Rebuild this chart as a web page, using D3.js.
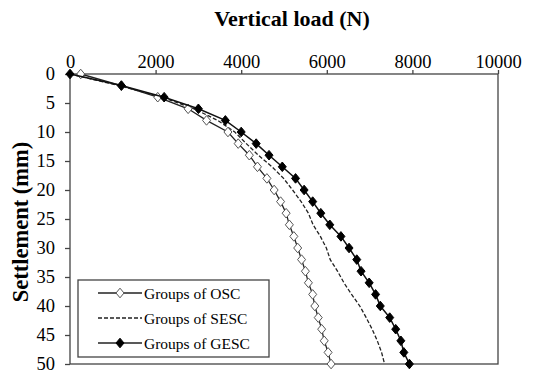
<!DOCTYPE html>
<html>
<head>
<meta charset="utf-8">
<script src="https://cdn.jsdelivr.net/npm/d3@7"></script>
<style>
  body { margin: 0; background: #fff; }
  svg text { font-family: "Liberation Serif", Tinos, "Times New Roman", Times, "DejaVu Serif", serif; fill: #000; }
</style>
</head>
<body>
<svg width="536" height="376"></svg>
<script>
// settlement steps (mm), shared by all three series
var settlement = [0, 2, 4, 6, 8, 10, 12, 14, 16, 18, 20, 22, 24, 26, 28, 30, 32, 34, 36, 38, 40, 42, 44, 46, 48, 50];

// vertical load (N)
var loadOSC  = [250, 1200, 2050, 2760, 3190, 3690, 3930, 4190, 4380, 4600, 4770, 4920, 5050, 5125, 5230, 5320, 5410, 5500, 5570, 5670, 5720, 5800, 5880, 5940, 6030, 6100];
var loadSESC = [0, 1150, 2150, 2900, 3450, 3850, 4120, 4400, 4720, 4990, 5200, 5400, 5570, 5680, 5850, 5990, 6080, 6250, 6400, 6580, 6770, 6920, 7060, 7180, 7280, 7350];
var loadGESC = [0, 1200, 2200, 3000, 3630, 4000, 4350, 4650, 4960, 5270, 5470, 5670, 5860, 6070, 6330, 6520, 6700, 6800, 6990, 7140, 7250, 7470, 7610, 7730, 7800, 7930];

var seriesNames = ["Groups of OSC", "Groups of SESC", "Groups of GESC"];
var xTicks = [0, 2000, 4000, 6000, 8000, 10000];
var yTicks = [0, 5, 10, 15, 20, 25, 30, 35, 40, 45, 50];

var svg = d3.select("svg");
var plotLeft = 70, plotRight = 498, plotTop = 74, plotBottom = 364;
var serif = "'Liberation Serif', Tinos, 'Times New Roman', 'DejaVu Serif', serif";

var x = d3.scaleLinear().domain([0, 10000]).range([plotLeft, plotRight]);
var y = d3.scaleLinear().domain([0, 50]).range([plotTop, plotBottom]);

var axisColor = "#444";

// frame
svg.append("rect")
    .attr("x", plotLeft).attr("y", plotTop)
    .attr("width", plotRight - plotLeft).attr("height", plotBottom - plotTop)
    .attr("fill", "none").attr("stroke", axisColor).attr("stroke-width", 1.3);

// top x axis
var gx = svg.append("g")
    .attr("transform", "translate(0," + plotTop + ")")
    .call(d3.axisTop(x).tickValues(xTicks).tickSize(4).tickSizeOuter(0).tickPadding(2).tickFormat(d3.format("d")));
gx.attr("font-family", serif);
gx.select(".domain").remove();
gx.selectAll("line").attr("stroke", axisColor).attr("stroke-width", 1.3);
gx.selectAll("text").attr("font-size", 18.5);

// left y axis
var gy = svg.append("g")
    .attr("transform", "translate(" + plotLeft + ",0)")
    .call(d3.axisLeft(y).tickValues(yTicks).tickSize(5).tickSizeOuter(0).tickPadding(10));
gy.attr("font-family", serif);
gy.select(".domain").remove();
gy.selectAll("line").attr("stroke", axisColor).attr("stroke-width", 1.3);
gy.selectAll("text").attr("font-size", 18.5);

// titles
svg.append("text")
    .attr("x", 292).attr("y", 26)
    .attr("text-anchor", "middle")
    .attr("font-family", serif)
    .attr("font-size", 22).attr("font-weight", "bold")
    .text("Vertical load (N)");

svg.append("text")
    .attr("transform", "translate(28,222) rotate(-90)")
    .attr("text-anchor", "middle")
    .attr("font-family", serif)
    .attr("font-size", 22.5).attr("font-weight", "bold")
    .text("Settlement (mm)");

var line = d3.line()
    .x(function(d) { return x(d[0]); })
    .y(function(d) { return y(d[1]); });

function pairs(loads) {
  return loads.map(function(v, i) { return [v, settlement[i]]; });
}

// slightly tall diamond, like the spreadsheet marker
var diamondType = {
  draw: function(ctx, size) {
    var w = Math.sqrt(size) / 2, h = w * 1.2;
    ctx.moveTo(0, -h); ctx.lineTo(w, 0); ctx.lineTo(0, h); ctx.lineTo(-w, 0); ctx.closePath();
  }
};
var diamond = d3.symbol().type(diamondType).size(64);

// SESC dashed
svg.append("path")
    .datum(pairs(loadSESC))
    .attr("d", line)
    .attr("fill", "none").attr("stroke", "#222").attr("stroke-width", 1.3)
    .attr("stroke-dasharray", "4,2");

// OSC open diamonds
svg.append("path")
    .datum(pairs(loadOSC))
    .attr("d", line)
    .attr("fill", "none").attr("stroke", "#222").attr("stroke-width", 1.3);
svg.append("g").selectAll("path")
    .data(pairs(loadOSC))
    .enter().append("path")
    .attr("transform", function(d) { return "translate(" + x(d[0]) + "," + y(d[1]) + ")"; })
    .attr("d", diamond)
    .attr("fill", "#fff").attr("stroke", "#555").attr("stroke-width", 1);

// GESC filled diamonds
svg.append("path")
    .datum(pairs(loadGESC))
    .attr("d", line)
    .attr("fill", "none").attr("stroke", "#111").attr("stroke-width", 1.5);
svg.append("g").selectAll("path")
    .data(pairs(loadGESC))
    .enter().append("path")
    .attr("transform", function(d) { return "translate(" + x(d[0]) + "," + y(d[1]) + ")"; })
    .attr("d", diamond)
    .attr("fill", "#000").attr("stroke", "#000");

// legend
var lg = svg.append("g").attr("font-family", serif);
lg.append("rect")
    .attr("x", 78).attr("y", 280).attr("width", 191).attr("height", 77)
    .attr("fill", "#fff").attr("stroke", axisColor).attr("stroke-width", 1.3);

var rows = [293, 318, 343];
seriesNames.forEach(function(name, i) {
  var ly = rows[i];
  var l = lg.append("line")
      .attr("x1", 98).attr("x2", 142).attr("y1", ly).attr("y2", ly)
      .attr("stroke", "#222").attr("stroke-width", 1.3);
  if (i === 1) l.attr("stroke-dasharray", "4,2");
  if (i === 0) {
    lg.append("path").attr("transform", "translate(120," + ly + ")").attr("d", diamond)
        .attr("fill", "#fff").attr("stroke", "#555");
  }
  if (i === 2) {
    lg.append("path").attr("transform", "translate(120," + ly + ")").attr("d", diamond)
        .attr("fill", "#000").attr("stroke", "#000");
  }
  lg.append("text")
      .attr("x", 144).attr("y", ly + 5.5)
      .attr("font-size", 15.5)
      .text(name);
});
</script>
</body>
</html>
